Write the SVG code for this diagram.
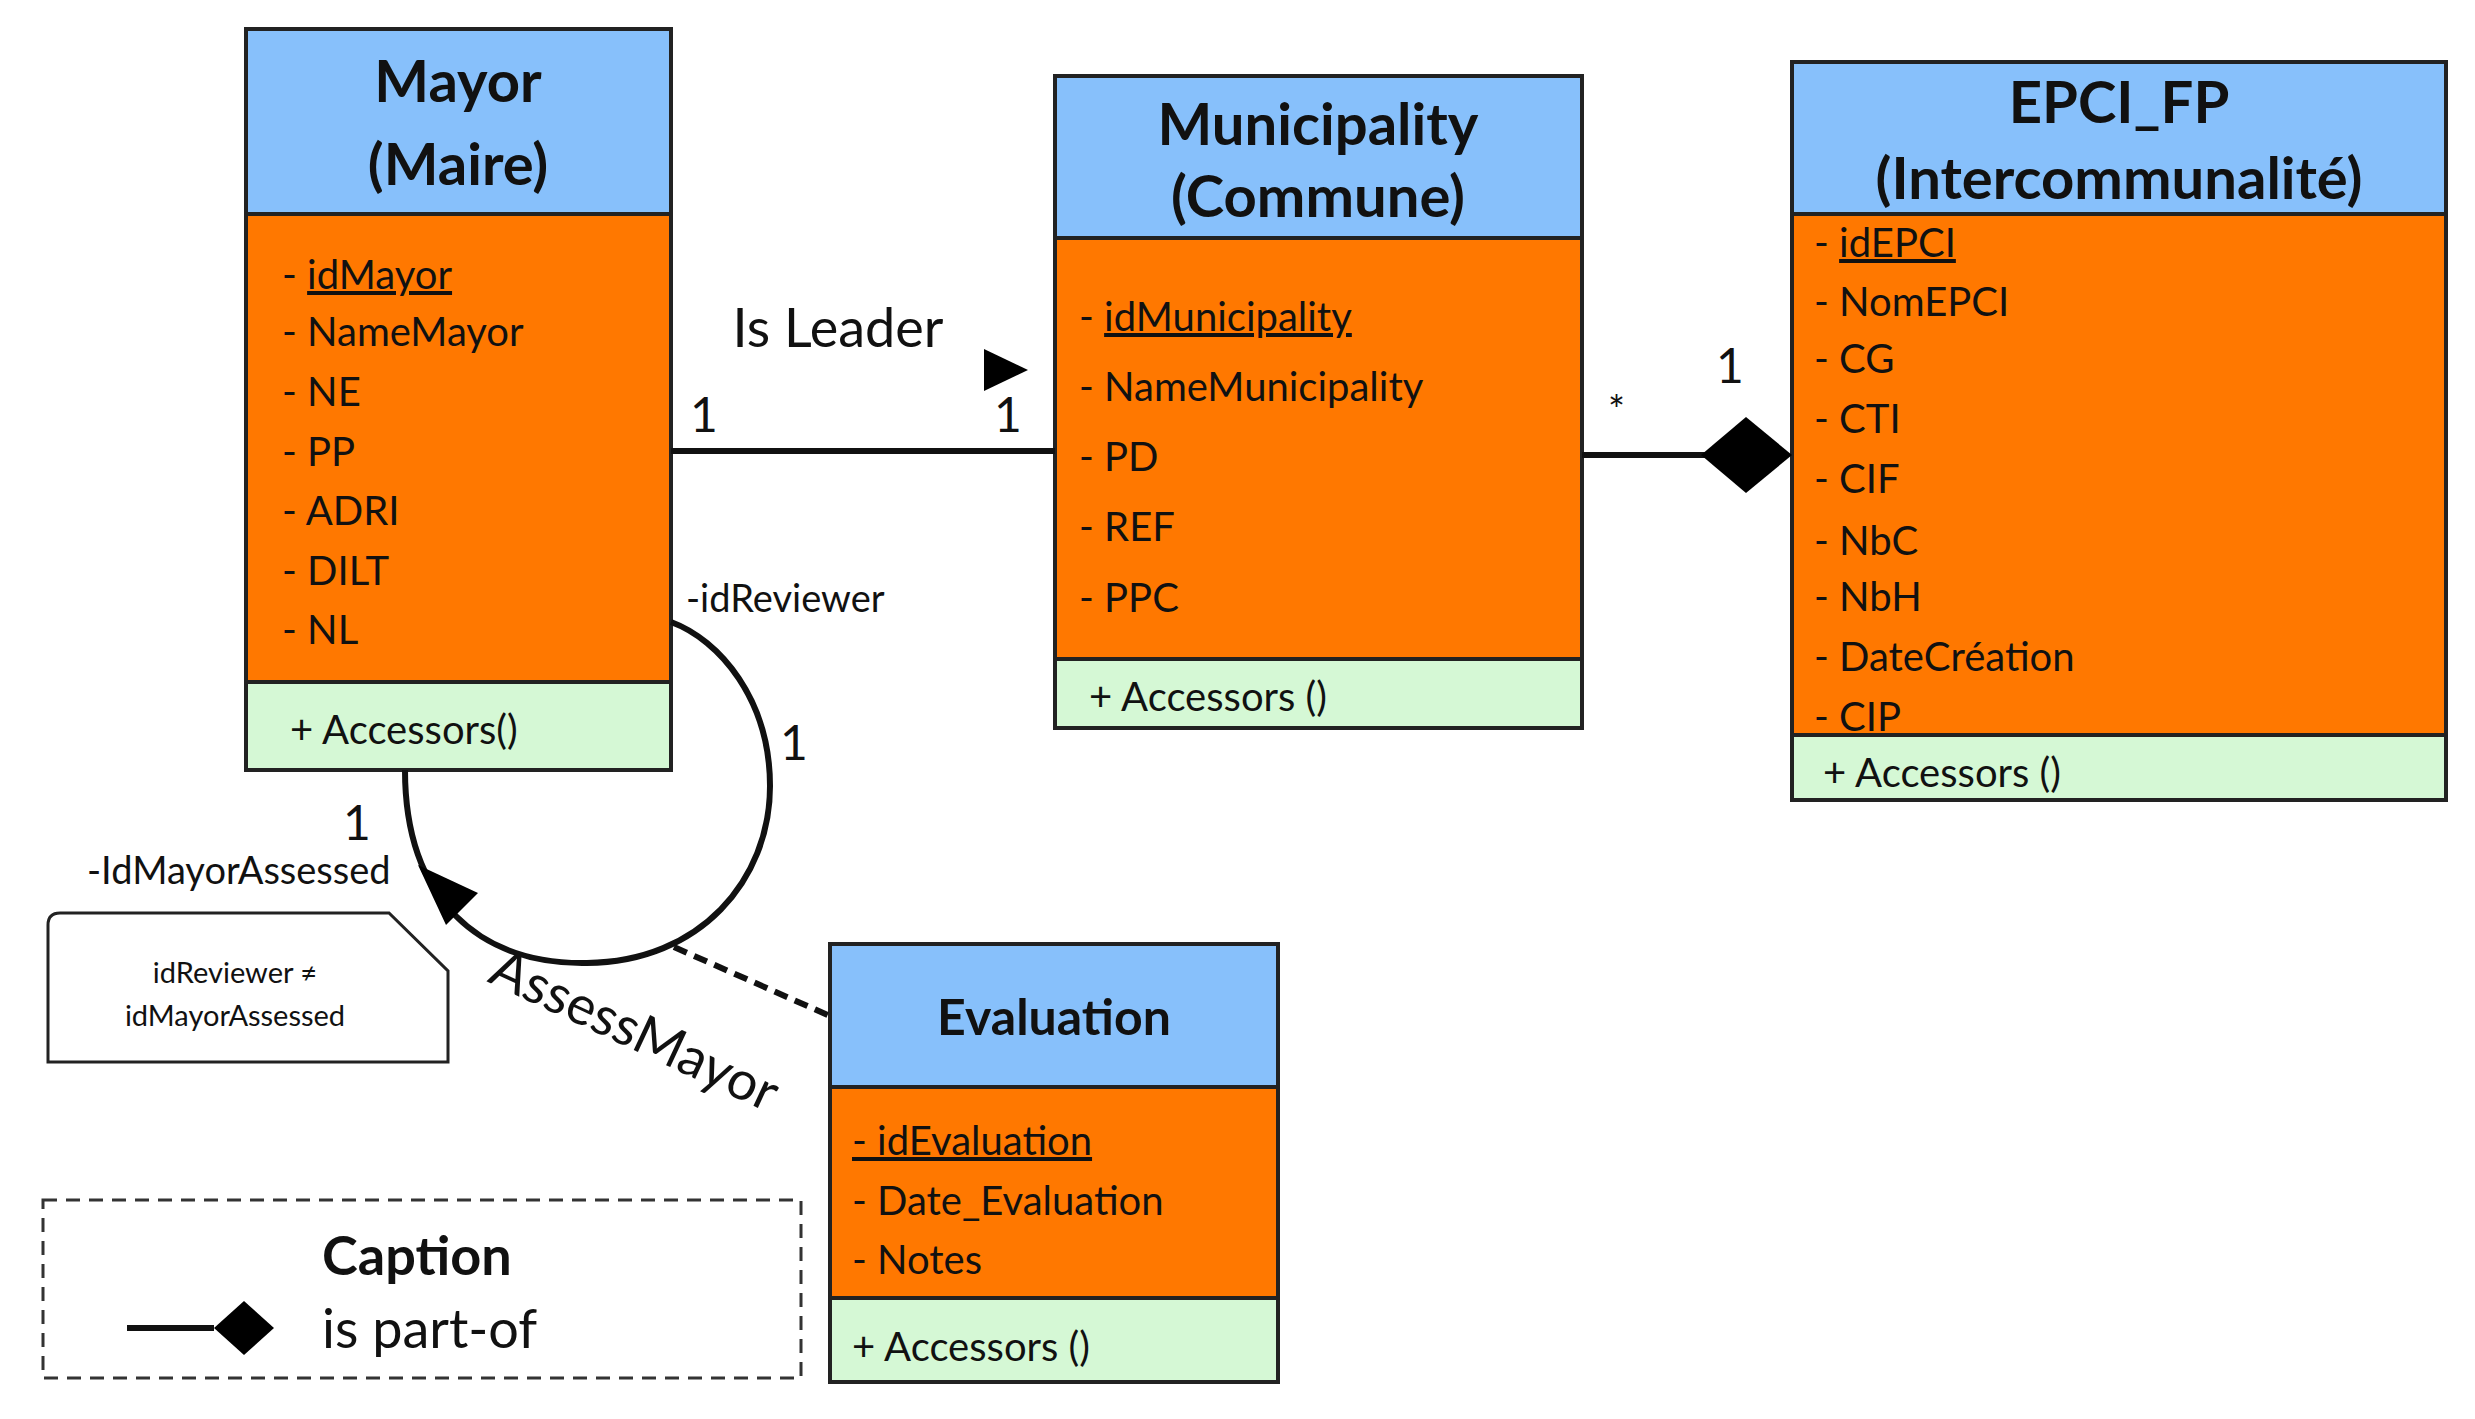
<svg xmlns="http://www.w3.org/2000/svg" width="2475" height="1419" viewBox="0 0 2475 1419">
<style>
text{font-family:Lato,"Liberation Sans",sans-serif;fill:#111}
.hd{fill:#87C0FB;stroke:#222;stroke-width:4}
.at{fill:#FF7800;stroke:#222;stroke-width:4}
.op{fill:#D5F8D5;stroke:#222;stroke-width:4}
.t{font-size:58px;font-weight:bold;text-anchor:middle}
.a{font-size:40px}
.u{text-decoration:underline}
.c{stroke:#111;stroke-width:6;fill:none}
</style>
<rect width="2475" height="1419" fill="#fff"/>
<g id="mayor">
<rect class="hd" x="246" y="29" width="425" height="185"/>
<rect class="at" x="246" y="214" width="425" height="468"/>
<rect class="op" x="246" y="682" width="425" height="88"/>
<text class="t" x="458" y="102">Mayor</text>
<text class="t" x="458" y="185">(Maire)</text>
<text class="a" x="282" y="289">- <tspan class="u">idMayor</tspan></text>
<text class="a" x="282" y="346">- NameMayor</text>
<text class="a" x="282" y="406">- NE</text>
<text class="a" x="282" y="466">- PP</text>
<text class="a" x="282" y="525">- ADRI</text>
<text class="a" x="282" y="585">- DILT</text>
<text class="a" x="282" y="644">- NL</text>
<text class="a" x="290" y="744">+ Accessors()</text>
</g>
<g id="municipality">
<rect class="hd" x="1055" y="76" width="527" height="162"/>
<rect class="at" x="1055" y="238" width="527" height="421"/>
<rect class="op" x="1055" y="659" width="527" height="69"/>
<text class="t" x="1318" y="145">Municipality</text>
<text class="t" x="1318" y="217">(Commune)</text>
<text class="a" x="1079" y="331">- <tspan class="u">idMunicipality</tspan></text>
<text class="a" x="1079" y="401">- NameMunicipality</text>
<text class="a" x="1079" y="471">- PD</text>
<text class="a" x="1079" y="541">- REF</text>
<text class="a" x="1079" y="612">- PPC</text>
<text class="a" x="1089" y="711">+ Accessors ()</text>
</g>
<g id="epci">
<rect class="hd" x="1792" y="62" width="654" height="152"/>
<rect class="at" x="1792" y="214" width="654" height="521"/>
<rect class="op" x="1792" y="735" width="654" height="65"/>
<text class="t" x="2119" y="123">EPCI_FP</text>
<text class="t" x="2119" y="199">(Intercommunalité)</text>
<text class="a" x="1814" y="257">- <tspan class="u">idEPCI</tspan></text>
<text class="a" x="1814" y="316">- NomEPCI</text>
<text class="a" x="1814" y="373">- CG</text>
<text class="a" x="1814" y="433">- CTI</text>
<text class="a" x="1814" y="493">- CIF</text>
<text class="a" x="1814" y="555">- NbC</text>
<text class="a" x="1814" y="611">- NbH</text>
<text class="a" x="1814" y="671">- DateCréation</text>
<text class="a" x="1814" y="731">- CIP</text>
<text class="a" x="1823" y="787">+ Accessors ()</text>
</g>
<g id="evaluation">
<rect class="hd" x="830" y="944" width="448" height="143"/>
<rect class="at" x="830" y="1087" width="448" height="211"/>
<rect class="op" x="830" y="1298" width="448" height="84"/>
<text class="t" x="1054" y="1035" style="font-size:50px">Evaluation</text>
<text class="a" x="852" y="1155"><tspan class="u">- idEvaluation</tspan></text>
<text class="a" x="852" y="1215">- Date_Evaluation</text>
<text class="a" x="852" y="1274">- Notes</text>
<text class="a" x="852" y="1361">+  Accessors ()</text>
</g>
<g id="note">
<path d="M60 913 H389 L448 971 V1062 H48 V925 Q48 913 60 913 Z" fill="#fff" stroke="#222" stroke-width="3"/>
<text x="235" y="983" style="font-size:29px;text-anchor:middle">idReviewer ≠</text>
<text x="235" y="1026" style="font-size:29px;text-anchor:middle">idMayorAssessed</text>
</g>
<g id="caption">
<rect x="43" y="1200" width="758" height="178" fill="none" stroke="#333" stroke-width="3" stroke-dasharray="14 9"/>
<text x="322" y="1275" style="font-size:54px;font-weight:bold">Caption</text>
<text x="322" y="1348" style="font-size:54px">is part-of</text>
<line x1="127" y1="1328" x2="214" y2="1328" stroke="#111" stroke-width="6"/>
<polygon points="214,1328 244,1301 274,1328 244,1355" fill="#000"/>
</g>
<g id="connectors">
<line class="c" x1="671" y1="451" x2="1055" y2="451"/>
<text x="838" y="347" style="font-size:54px;text-anchor:middle">Is Leader</text>
<polygon points="984,349 1028,370 984,391" fill="#000"/>
<text x="690" y="432" style="font-size:48px">1</text>
<text x="994" y="432" style="font-size:48px">1</text>
<line class="c" x1="1582" y1="455" x2="1705" y2="455"/>
<polygon points="1701,455 1746,417 1792,455 1746,493" fill="#000"/>
<text x="1608" y="425" style="font-size:40px">*</text>
<text x="1716" y="383" style="font-size:48px">1</text>
<path class="c" d="M405 770 C405 900 480 965 587 963 C700 962 770 880 770 786 C770 700 720 640 671 622"/>
<polygon points="418,865 478,893 446,925" fill="#000"/>
<text x="686" y="612" style="font-size:38px">-idReviewer</text>
<text x="780" y="760" style="font-size:48px">1</text>
<text x="343" y="840" style="font-size:48px">1</text>
<text x="87" y="884" style="font-size:38px">-IdMayorAssessed</text>
<line x1="674" y1="947" x2="830" y2="1016" stroke="#111" stroke-width="6" stroke-dasharray="14 8"/>
<text transform="translate(627 1047) rotate(25)" style="font-size:54px;text-anchor:middle">AssessMayor</text>
</g>
</svg>
